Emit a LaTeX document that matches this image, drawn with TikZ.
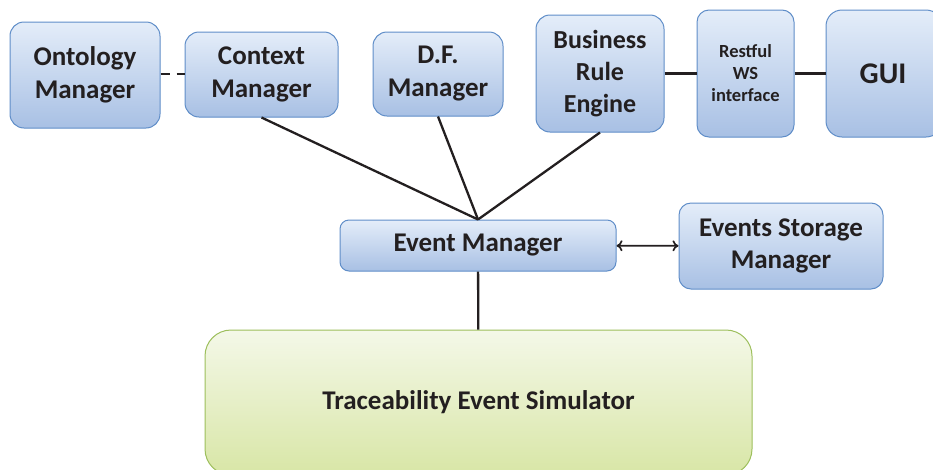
\documentclass[tikz,border=0pt]{standalone}
\usepackage{fontspec}
\setmainfont{Carlito}
\usetikzlibrary{arrows.meta}
\definecolor{blktop}{HTML}{E4EDF9}
\definecolor{blkbot}{HTML}{A8C0E4}
\definecolor{blkline}{HTML}{5F8DC8}
\definecolor{simtop}{HTML}{F4F8E8}
\definecolor{simbot}{HTML}{D8E6A6}
\definecolor{simline}{HTML}{9DBF5C}
\definecolor{inktext}{HTML}{231F20}
\tikzset{
  blk/.style={draw=blkline, line width=1pt, rounded corners=14pt,
    top color=blktop, bottom color=blkbot, align=center, inner sep=0pt,
    text=inktext, font=\bfseries\fontsize{27}{33}\selectfont},
  simbox/.style={blk, draw=simline, top color=simtop, bottom color=simbot,
    rounded corners=26pt},
  wire/.style={line width=2.3pt, inktext}
}
\begin{document}
\begin{tikzpicture}[x=1pt,y=-1pt]
    \useasboundingbox (0,0) rectangle (933,469);
    \node[blk, minimum width=150pt, minimum height=106pt] (OM) at (85,75) {Ontology\\Manager};
    \node[blk, minimum width=153pt, minimum height=85pt] (CM) at (261.5,74.5) {Context\\Manager};
    \draw[wire, dash pattern=on 9pt off 7pt] (OM.east |- 0,74) -- (CM.west |- 0,74);
    \node[blk, minimum width=130pt, minimum height=84pt] (DF) at (438,74) {D.F.\\Manager};
    \node[blk, minimum width=128pt, minimum height=117pt, font=\bfseries\fontsize{26}{32}\selectfont] (BRE) at (600,73.5) {Business\\Rule\\Engine};
    \node[blk, minimum width=97pt, minimum height=127pt, rounded corners=12pt,
      font=\bfseries\fontsize{18.5}{22}\selectfont] (WS) at (745.5,73.5) {Restful\\WS\\interface};
    \draw[wire] (BRE) -- (WS);
    \node[blk, minimum width=116pt, minimum height=127pt, rounded corners=16pt,
      font=\bfseries\fontsize{30}{34}\selectfont, text width=116pt] (GUI) at (884,73.5) {GUI\hspace*{2pt}};
    \draw[wire] (WS) -- (GUI);
    \node[blk, minimum width=276pt, minimum height=51pt, rounded corners=9pt] (EM) at (478,245.5) {\raisebox{-3pt}{Event Manager}};
    \draw[wire] (EM.north) -- (CM.south);
    \draw[wire] (EM.north) -- (DF.south);
    \draw[wire] (EM.north) -- (BRE.south);
    \node[blk, minimum width=204pt, minimum height=86pt, rounded corners=12pt,
      font=\bfseries\fontsize{27}{32}\selectfont] (ESM) at (781,246) {Events Storage\\Manager};
    \draw[wire, line width=1.7pt, {To[length=6pt,width=11pt]}-{To[length=6pt,width=11pt]}] (EM) -- (ESM);
    \node[simbox, minimum width=547pt, minimum height=145pt] (TES) at (478.5,402.5) {Traceability Event Simulator};
    \draw[wire] (EM) -- (TES);
\end{tikzpicture}
\end{document}
